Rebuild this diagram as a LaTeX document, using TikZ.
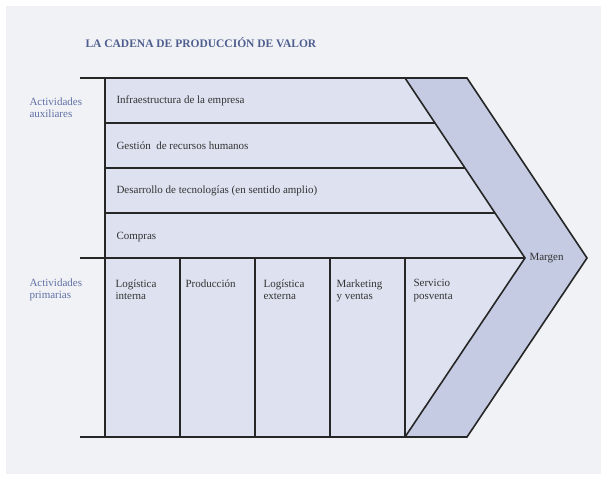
\documentclass[tikz,border=0pt]{standalone}
\usepackage{fontspec}
\setmainfont{Liberation Serif}
\definecolor{bgc}{HTML}{F1F2F6}
\definecolor{inner}{HTML}{DEE2F0}
\definecolor{band}{HTML}{C4CBE3}
\definecolor{titc}{HTML}{4E5E8E}
\definecolor{sidec}{HTML}{6070A4}
\begin{document}
\begin{tikzpicture}[x=1pt,y=-1pt,
  ln/.style={draw=black!85,line width=1.6pt},
  lbl/.style={font=\fontsize{11}{12.5}\selectfont,text=black!80,anchor=west},
  side/.style={font=\fontsize{11}{12.5}\selectfont,text=sidec,align=left,anchor=north west}]
\useasboundingbox (0,0) rectangle (607,480);
\fill[white] (0,0) rectangle (607,480);
\fill[bgc] (6,6) rectangle (601,474);
\fill[band] (405,78) -- (467,78) -- (587,258) -- (467,437) -- (405,437) -- (525,258) -- cycle;
\fill[inner] (105,78) -- (405,78) -- (525,258) -- (405,437) -- (105,437) -- cycle;
\draw[ln] (80,78) -- (467,78) -- (587,258) -- (467,437) -- (80,437);
\draw[ln] (405,78) -- (525,258) -- (405,437);
\draw[ln] (105,78) -- (105,437);
\draw[ln] (105,123) -- (435,123);
\draw[ln] (105,168) -- (465,168);
\draw[ln] (105,213) -- (495,213);
\draw[ln] (80,258) -- (525,258);
\foreach \x in {180,255,330,405} \draw[ln] (\x,258) -- (\x,437);
\node[font=\fontsize{11.5}{13}\selectfont\bfseries,text=titc,anchor=west] (title) at (82,43) {LA CADENA DE PRODUCCIÓN DE VALOR};
\node[side] (aux) at (26,94) {Actividades\\auxiliares};
\node[side] (pri) at (26,275) {Actividades\\primarias};
\node[lbl] (inf) at (113,101) {Infraestructura de la empresa};
\node[lbl] (rh) at (113,146) {Gestión\ \ de recursos humanos};
\node[lbl] (tec) at (113,191) {Desarrollo de tecnologías (en sentido amplio)};
\node[lbl] (com) at (113,237) {Compras};
\node[lbl] (mar) at (526,258) {Margen};
\foreach \x/\t [count=\i] in {112/{Logística\\interna},182/{Producción},260/{Logística\\externa},333/{Marketing\\y ventas},410/{Servicio\\posventa}}
  \node[lbl,align=left,anchor=north west] (p\i) at (\x,276) {\t};
\end{tikzpicture}
\end{document}
